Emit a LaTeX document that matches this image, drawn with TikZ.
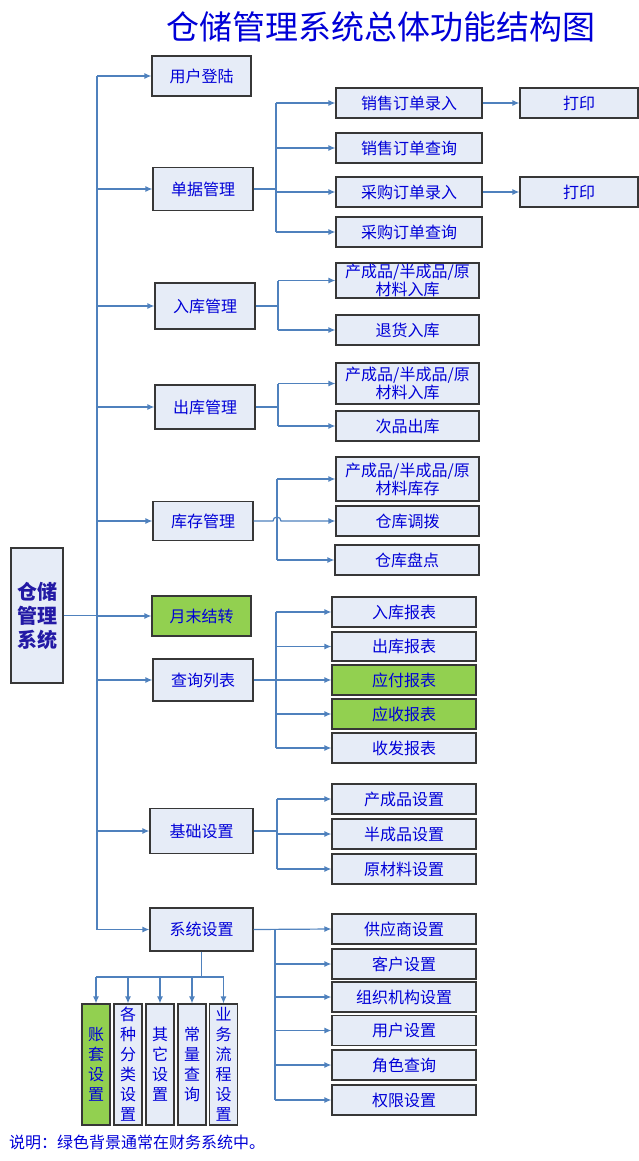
\documentclass[tikz,border=0pt]{standalone}
\usepackage{fontspec}
\setmainfont{Noto Sans CJK SC}
\usetikzlibrary{arrows.meta,calc}
\definecolor{boxfill}{RGB}{230,236,247}
\definecolor{boxdraw}{RGB}{55,55,55}
\definecolor{lnk}{RGB}{79,129,189}
\definecolor{grn}{RGB}{146,208,80}
\definecolor{txt}{RGB}{0,0,215}
\definecolor{roottxt}{RGB}{35,25,165}
\begin{document}
\begin{tikzpicture}[x=1pt,y=-1pt,
  box/.style={draw=boxdraw,fill=boxfill,line width=1.2pt,inner sep=0pt,text=txt,
    font=\fontsize{16}{18}\selectfont,align=center},
  bx/.style 2 args={box,minimum width=#1,minimum height=#2},
  gbx/.style 2 args={bx={#1}{#2},fill=grn},
  vbx/.style={box,minimum width=28pt,minimum height=121pt,font=\fontsize{16}{20}\selectfont},
  ln/.style={draw=lnk,line width=1.2pt},
  arr/.style={ln,-{Latex[length=7pt,width=6pt]}}
]
\useasboundingbox (0,0) rectangle (639,1161);
% title
\node[text=txt,font=\fontsize{33}{36}\selectfont] (title) at (381,27) {仓储管理系统总体功能结构图};
% root
\node[bx={52pt}{135pt},text=roottxt,font=\fontsize{20}{24}\selectfont\bfseries] (root) at (37,615.5) {仓储\\管理\\系统};
% level 1
\node[bx={99pt}{40pt}] (yh) at (201.5,76) {用户登陆};
\node[bx={100pt}{43pt}] (dj) at (203,189) {单据管理};
\node[bx={100pt}{46pt}] (rk) at (205,306) {入库管理};
\node[bx={100pt}{44pt}] (ck) at (205,407) {出库管理};
\node[bx={100pt}{39pt}] (kc) at (203,521) {库存管理};
\node[gbx={99pt}{40pt}] (yj) at (201.5,616) {月末结转};
\node[bx={100pt}{42pt}] (cx) at (203,680) {查询列表};
\node[bx={103pt}{45pt}] (jc) at (201.5,831) {基础设置};
\node[bx={103pt}{43pt}] (xt) at (201.5,929.5) {系统设置};
% level 2: 单据管理
\node[bx={146pt}{30pt}] (s1) at (409,103) {销售订单录入};
\node[bx={118pt}{30pt}] (p1) at (579,103) {打印};
\node[bx={146pt}{30pt}] (s2) at (409,148) {销售订单查询};
\node[bx={146pt}{30pt}] (s3) at (409,192) {采购订单录入};
\node[bx={118pt}{30pt}] (p2) at (579,192) {打印};
\node[bx={146pt}{30pt}] (s4) at (409,232) {采购订单查询};
% 入库管理
\node[bx={143pt}{35pt}] (r1) at (407.5,280.5) {产成品/半成品/原\\材料入库};
\node[bx={143pt}{30pt}] (r2) at (407.5,330) {退货入库};
% 出库管理
\node[bx={143pt}{41pt}] (c1) at (407.5,383.5) {产成品/半成品/原\\材料入库};
\node[bx={143pt}{30pt}] (c2) at (407.5,426) {次品出库};
% 库存管理
\node[bx={143pt}{44pt}] (k1) at (407.5,479) {产成品/半成品/原\\材料库存};
\node[bx={143pt}{30pt}] (k2) at (407.5,521) {仓库调拨};
\node[bx={144pt}{30pt}] (k3) at (407,560) {仓库盘点};
% 查询列表
\node[bx={144pt}{30pt}] (q1) at (404,612) {入库报表};
\node[bx={144pt}{29pt}] (q2) at (404,646.5) {出库报表};
\node[gbx={144pt}{30pt}] (q3) at (404,680) {应付报表};
\node[gbx={144pt}{30pt}] (q4) at (404,714) {应收报表};
\node[bx={144pt}{30pt}] (q5) at (404,748) {收发报表};
% 基础设置
\node[bx={144pt}{30pt}] (j1) at (404,799) {产成品设置};
\node[bx={144pt}{30pt}] (j2) at (404,834) {半成品设置};
\node[bx={144pt}{30pt}] (j3) at (404,869) {原材料设置};
% 系统设置 right
\node[bx={144pt}{30pt}] (x1) at (404,929) {供应商设置};
\node[bx={144pt}{30pt}] (x2) at (404,964) {客户设置};
\node[bx={144pt}{30pt}] (x3) at (404,997) {组织机构设置};
\node[bx={144pt}{30pt}] (x4) at (404,1030.5) {用户设置};
\node[bx={144pt}{30pt}] (x5) at (404,1065) {角色查询};
\node[bx={144pt}{30pt}] (x6) at (404,1100) {权限设置};
% 系统设置 bottom
\node[vbx,fill=grn] (v1) at (96,1064.5) {账\\套\\设\\置};
\node[vbx] (v2) at (128,1064.5) {各\\种\\分\\类\\设\\置};
\node[vbx] (v3) at (160,1064.5) {其\\它\\设\\置};
\node[vbx] (v4) at (192,1064.5) {常\\量\\查\\询};
\node[vbx] (v5) at (223.5,1064.5) {业\\务\\流\\程\\设\\置};
% note
\node[anchor=west,text=txt,font=\fontsize{16}{18}\selectfont,inner sep=0pt] (note) at (9,1142) {说明：绿色背景通常在财务系统中。};
% coordinates
\coordinate (tr) at (97,0);
\coordinate (bd) at (276,0);
\coordinate (brk) at (278,0);
\coordinate (bkc) at (277,0);
\coordinate (bcx) at (276,0);
\coordinate (bjc) at (277,0);
\coordinate (bxt) at (275,0);
\coordinate (hb) at (0,977);
% trunk
\draw[ln] (root.east) -- (root.east -| tr);
\draw[ln] (yh.west -| tr) -- (xt.west -| tr);
\foreach \n in {yh,dj,rk,ck,kc,yj,cx,jc,xt} \draw[arr] (\n.west -| tr) -- (\n.west);
% 单据管理
\draw[ln] (dj.east) -- (dj.east -| bd);
\draw[ln] (s1.west -| bd) -- (s4.west -| bd);
\foreach \n in {s1,s2,s3,s4} \draw[arr] (\n.west -| bd) -- (\n.west);
\draw[arr] (s1.east) -- (p1.west);
\draw[arr] (s3.east) -- (p2.west);
% 入库管理
\draw[ln] (rk.east) -- (rk.east -| brk);
\draw[ln] (r1.west -| brk) -- (r2.west -| brk);
\foreach \n in {r1,r2} \draw[arr] (\n.west -| brk) -- (\n.west);
% 出库管理
\draw[ln] (ck.east) -- (ck.east -| brk);
\draw[ln] (c1.west -| brk) -- (c2.west -| brk);
\foreach \n in {c1,c2} \draw[arr] (\n.west -| brk) -- (\n.west);
% 库存管理
\draw[ln] (k1.west -| bkc) -- (k3.west -| bkc);
\foreach \n in {k1,k3} \draw[arr] (\n.west -| bkc) -- (\n.west);
\draw[arr] (kc.east) -- ($(kc.east -| bkc)+(-4,0)$) arc[start angle=180,end angle=360,radius=4] -- (k2.west);
% 查询列表
\draw[ln] (cx.east) -- (cx.east -| bcx);
\draw[ln] (q1.west -| bcx) -- (q5.west -| bcx);
\foreach \n in {q1,q2,q3,q4,q5} \draw[arr] (\n.west -| bcx) -- (\n.west);
% 基础设置
\draw[ln] (jc.east) -- (jc.east -| bjc);
\draw[ln] (j1.west -| bjc) -- (j3.west -| bjc);
\foreach \n in {j1,j2,j3} \draw[arr] (\n.west -| bjc) -- (\n.west);
% 系统设置 right
\draw[ln] (x1.west -| bxt) -- (x6.west -| bxt);
\draw[arr] (xt.east) -- (x1.west);
\foreach \n in {x2,x3,x4,x5,x6} \draw[arr] (\n.west -| bxt) -- (\n.west);
% 系统设置 bottom
\draw[ln] (xt.south) -- (xt.south |- hb);
\draw[ln] (v1.north |- hb) -- (v5.north |- hb);
\foreach \n in {v1,v2,v3,v4,v5} \draw[arr] (\n.north |- hb) -- (\n.north);
\end{tikzpicture}
\end{document}
